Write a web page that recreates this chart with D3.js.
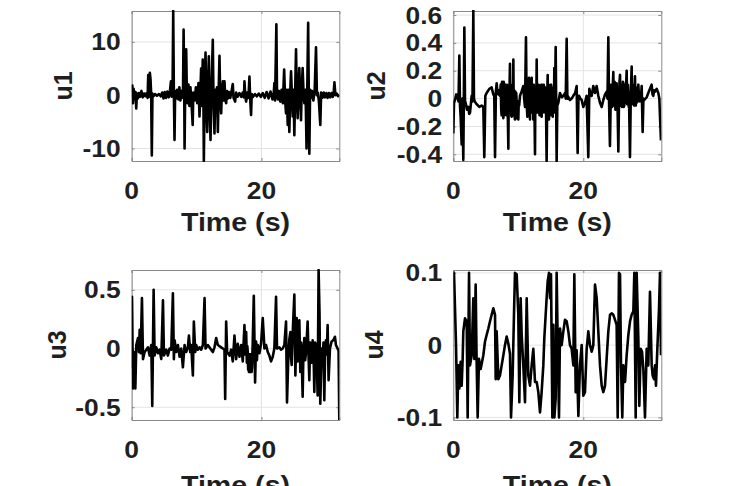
<!DOCTYPE html>
<html>
<head>
<meta charset="utf-8">
<script src="https://cdn.jsdelivr.net/npm/d3@7"></script>
<style>
  html, body { margin: 0; padding: 0; background: #fff; }
  svg { display: block; }
  text { font-family: "Liberation Sans", Arial, Helvetica, sans-serif; fill: #1f1f1f; font-weight: bold; }
</style>
</head>
<body>
<svg id="chart" width="730" height="486"></svg>
<script>
// ---------------- data (time s, value) ----------------
const u1 = [[0,0.5],[0.1,1.8],[0.2,-1.5],[0.3,1.2],[0.45,-0.8],[0.6,0.6],[0.7,-2.5],[0.8,0.3],[0.95,-0.6],[1.1,0.4],[1.3,-0.3],[1.5,0.8],[1.7,-0.4],[1.9,0.3],[2.1,-0.2],[2.3,0.4],[2.45,-0.5],[2.55,3.8],[2.65,-0.3],[2.8,4.2],[2.9,3.0],[3.0,0.2],[3.1,-11.3],[3.2,0.3],[3.35,-0.2],[3.6,0.2],[3.9,-0.1],[4.2,0.2],[4.5,-0.2],[4.7,0.5],[4.9,-0.6],[5.1,0.6],[5.3,-0.5],[5.5,0.7],[5.7,-0.4],[5.9,0.8],[6.05,2.6],[6.15,-0.3],[6.3,1.0],[6.4,15.8],[6.5,0.5],[6.6,-8.4],[6.7,0.8],[6.85,-0.6],[7.0,1.0],[7.2,-0.8],[7.35,1.5],[7.5,-1.0],[7.7,0.8],[7.9,-0.5],[8.0,12.3],[8.1,0.5],[8.15,-10],[8.25,1.2],[8.4,8.6],[8.5,0.5],[8.6,-1.5],[8.75,2],[8.9,-2],[9.05,1.5],[9.2,-1],[9.4,-5.6],[9.5,0.5],[9.7,-1.0],[9.9,1.5],[10.1,-1.5],[10.3,2.3],[10.45,-4],[10.6,1],[10.7,5],[10.8,-2],[10.95,6.7],[11.05,0],[11.12,-12.35],[11.25,1],[11.38,8],[11.5,-1],[11.64,-6.9],[11.75,1],[11.89,7.3],[12.0,-1],[12.15,-8.4],[12.3,1],[12.5,10.4],[12.6,0],[12.76,-7.2],[12.9,1],[13.02,-2],[13.15,1.5],[13.28,-6.9],[13.4,0.5],[13.53,7.4],[13.65,-1],[13.79,-3.4],[13.9,0.5],[14.05,2.6],[14.15,-1],[14.3,2.6],[14.45,-1],[14.56,-1.5],[14.7,0.8],[14.85,-0.6],[15.0,0.6],[15.2,-0.5],[15.4,0.8],[15.58,2.1],[15.7,-0.5],[15.94,-1.2],[16.1,0.5],[16.3,-0.3],[16.6,0.4],[16.9,-0.3],[17.1,0.5],[17.3,-0.4],[17.38,2.6],[17.5,0],[17.64,-1.2],[17.8,0.5],[18.0,-0.5],[18.15,3.5],[18.25,-0.3],[18.4,-3.7],[18.5,0.2],[18.7,-0.3],[19.0,0.2],[19.3,-0.2],[19.6,0.3],[19.9,-0.3],[20.2,0.4],[20.5,-0.5],[20.8,0.6],[21.1,-0.6],[21.4,0.7],[21.7,-0.8],[21.9,0.5],[22.0,2.3],[22.1,-1],[22.3,13.3],[22.4,0],[22.55,-0.8],[22.7,0.8],[22.9,-1.2],[23.1,1],[23.3,-1.5],[23.5,4.8],[23.65,-1],[23.79,-3.4],[23.9,1],[24.05,-5.6],[24.15,1],[24.3,-6.9],[24.45,1],[24.56,4.5],[24.7,0],[24.82,-4],[24.95,1],[25.07,-7.5],[25.2,1],[25.33,8.6],[25.45,0],[25.58,-4.3],[25.7,1],[25.84,5.1],[25.95,0],[26.1,-4.7],[26.2,1],[26.35,5.1],[26.5,0],[26.61,-1.5],[26.8,1],[26.95,-10],[27.05,0],[27.2,13.6],[27.3,0],[27.38,-11],[27.5,1],[27.64,-0.5],[27.8,0.8],[28.0,-1],[28.2,0.8],[28.41,9],[28.55,0],[28.67,0.5],[28.85,-1],[29.07,-5.6],[29.2,0.5],[29.4,-0.5],[29.6,0.5],[29.8,-0.4],[30.0,0.4],[30.2,-0.5],[30.4,0.4],[30.6,-0.4],[30.8,0.4],[31.0,-0.3],[31.15,0.8],[31.25,2.4],[31.4,0],[31.6,0.3],[31.8,-0.2],[32,0.1]];

const u2 = [[0,-0.25],[0.11,-0.03],[0.26,-0.01],[0.45,0.03],[0.62,0.02],[0.8,-0.02],[0.93,0.31],[1.03,-0.05],[1.13,-0.13],[1.29,-0.33],[1.4,0.0],[1.54,-0.44],[1.62,0.0],[1.70,0.51],[1.8,-0.02],[1.9,-0.03],[2.1,-0.08],[2.31,-0.06],[2.45,-0.11],[2.57,-0.1],[2.7,-0.04],[2.83,0.02],[2.95,-0.02],[3.08,0.63],[3.18,0.0],[3.3,-0.02],[3.59,-0.04],[4.0,-0.06],[4.36,-0.05],[4.62,-0.06],[4.77,-0.42],[4.93,0.02],[5.13,0.04],[5.54,0.07],[5.9,0.08],[6.05,0.05],[6.16,0.03],[6.3,0.02],[6.42,-0.42],[6.55,0.05],[6.67,0.11],[6.8,0.04],[6.93,0.03],[7.05,0.06],[7.18,0.02],[7.3,0.1],[7.37,-0.08],[7.44,-0.12],[7.5,0.12],[7.55,0.1],[7.62,-0.1],[7.7,-0.14],[7.76,0.12],[7.82,0.1],[7.88,-0.12],[7.95,-0.1],[8.0,0.1],[8.05,0.08],[8.13,-0.1],[8.21,-0.12],[8.26,0.1],[8.3,0.05],[8.38,-0.1],[8.47,-0.36],[8.53,0.05],[8.6,-0.08],[8.66,0.1],[8.72,0.25],[8.78,-0.1],[8.85,0.08],[8.92,-0.12],[8.98,-0.13],[9.04,0.1],[9.1,0.05],[9.17,-0.12],[9.24,0.28],[9.3,-0.1],[9.35,0.06],[9.42,-0.12],[9.49,-0.15],[9.55,0.05],[9.62,-0.1],[9.68,0.04],[9.75,-0.03],[9.82,-0.14],[9.88,-0.1],[9.94,-0.02],[10.0,-0.15],[10.07,-0.02],[10.13,-0.05],[10.26,0.02],[10.5,0.05],[10.77,0.09],[10.9,0.0],[11.03,-0.06],[11.18,0.44],[11.28,-0.02],[11.39,-0.13],[11.46,0.08],[11.52,0.05],[11.58,-0.1],[11.65,0.15],[11.72,-0.05],[11.8,-0.15],[11.86,0.1],[11.93,0.05],[12.0,-0.1],[12.06,0.15],[12.12,-0.1],[12.18,-0.05],[12.25,0.1],[12.31,-0.15],[12.38,0.1],[12.45,0.05],[12.57,-0.4],[12.63,0.08],[12.7,0.05],[12.76,-0.1],[12.83,0.28],[12.89,-0.1],[12.95,0.0],[13.02,0.1],[13.08,-0.1],[13.14,0.1],[13.2,0.05],[13.27,-0.12],[13.34,0.09],[13.4,-0.12],[13.47,-0.05],[13.53,0.1],[13.59,-0.13],[13.66,0.1],[13.72,0.05],[13.78,-0.1],[13.85,0.04],[13.92,0.1],[13.98,-0.05],[14.05,0.08],[14.11,-0.1],[14.18,0.08],[14.25,0.0],[14.36,-0.448],[14.45,0.0],[14.52,0.17],[14.57,-0.08],[14.62,0.0],[14.68,0.1],[14.72,-0.15],[14.79,0.08],[14.85,0.0],[14.92,-0.12],[14.98,0.09],[15.05,0.1],[15.12,-0.05],[15.2,0.08],[15.29,-0.13],[15.35,0.08],[15.42,0.05],[15.48,-0.1],[15.54,0.22],[15.6,-0.1],[15.65,0.0],[15.75,0.37],[15.82,0.0],[15.9,-0.448],[16.0,-0.05],[16.16,-0.03],[16.41,0.04],[16.7,0.01],[16.93,0.02],[17.18,0.04],[17.3,0.0],[17.44,0.43],[17.55,0.0],[17.59,0.02],[17.95,-0.01],[18.2,0.0],[18.46,0.02],[18.75,0.04],[18.98,0.09],[19.13,-0.39],[19.25,0.0],[19.34,0.02],[19.55,0.0],[19.75,-0.01],[20.0,-0.06],[20.26,-0.03],[20.51,0.02],[20.77,-0.42],[20.93,0.07],[21.1,0.03],[21.29,0.02],[21.54,0.09],[21.8,0.04],[22.05,0.09],[22.31,0.02],[22.57,-0.03],[22.83,-0.06],[23.08,-0.01],[23.35,0.03],[23.6,0.05],[23.72,0.0],[23.85,0.44],[23.95,0.0],[24.1,-0.34],[24.22,0.0],[24.29,0.1],[24.36,0.08],[24.43,-0.06],[24.5,-0.02],[24.56,0.12],[24.62,0.19],[24.68,-0.05],[24.75,-0.02],[24.82,0.12],[24.88,0.04],[24.94,-0.08],[25.0,-0.05],[25.06,0.1],[25.13,0.11],[25.19,-0.05],[25.25,0.0],[25.39,-0.38],[25.5,0.0],[25.57,0.12],[25.65,0.17],[25.72,-0.04],[25.78,-0.05],[25.84,0.1],[25.9,0.05],[25.96,-0.06],[26.03,-0.05],[26.1,0.12],[26.16,0.11],[26.23,-0.06],[26.3,-0.05],[26.35,0.08],[26.41,-0.03],[26.48,0.1],[26.55,0.05],[26.67,0.2],[26.74,-0.04],[26.8,-0.02],[26.87,0.1],[26.93,0.04],[27.0,-0.06],[27.05,-0.05],[27.18,-0.42],[27.3,0.0],[27.37,0.12],[27.44,0.23],[27.5,-0.04],[27.55,-0.02],[27.62,0.1],[27.69,0.02],[27.76,0.1],[27.82,-0.05],[27.95,0.16],[28.02,-0.02],[28.08,-0.05],[28.15,0.08],[28.21,-0.03],[28.28,0.08],[28.35,0.05],[28.47,0.1],[28.6,-0.02],[28.72,0.02],[28.85,-0.02],[28.98,0.09],[29.13,-0.24],[29.25,0.0],[29.39,-0.01],[29.75,0.01],[30.0,0.04],[30.26,0.07],[30.51,0.1],[30.65,0.03],[30.77,0.02],[30.9,0.06],[31.03,0.05],[31.28,0.07],[31.54,0.04],[31.7,0.0],[31.8,-0.13],[31.95,-0.3]];

const u3 = [[0,-0.17],[0.05,0.44],[0.2,-0.34],[0.35,-0.03],[0.56,-0.34],[0.71,0.03],[0.97,0.09],[1.12,-0.03],[1.23,0.16],[1.38,-0.04],[1.58,0.43],[1.74,-0.09],[1.99,-0.03],[2.25,-0.01],[2.51,0.01],[2.76,-0.06],[3.02,0.03],[3.17,-0.49],[3.38,0.5],[3.53,-0.06],[3.79,0.01],[4.05,-0.04],[4.3,-0.01],[4.56,-0.09],[4.82,0.41],[4.97,-0.06],[5.33,-0.01],[5.58,-0.06],[5.84,0.0],[6.1,-0.01],[6.35,0.47],[6.5,-0.09],[6.61,0.07],[6.87,-0.03],[7.12,0.03],[7.38,-0.07],[7.64,0.0],[7.89,-0.16],[8.15,0.03],[8.4,-0.03],[8.66,0.01],[8.82,0.11],[9.02,-0.03],[9.17,0.03],[9.43,-0.23],[9.58,0.23],[9.79,-0.03],[9.94,0.03],[10.2,-0.01],[10.46,0.01],[10.71,-0.01],[10.97,0.03],[11.23,0.43],[11.38,0.0],[11.74,0.03],[12.25,-0.01],[12.51,-0.03],[12.76,0.01],[13.02,0.09],[13.28,0.03],[13.79,0.01],[14.05,0.0],[14.3,-0.01],[14.41,-0.43],[14.56,0.23],[14.71,-0.03],[15.07,-0.06],[15.33,-0.01],[15.58,-0.11],[15.84,0.11],[16.1,-0.09],[16.35,0.04],[16.61,-0.07],[16.87,0.03],[17.12,-0.11],[17.38,0.2],[17.5,-0.05],[17.64,0.14],[17.75,-0.12],[17.82,0.02],[17.89,-0.03],[17.95,-0.18],[18.0,-0.05],[18.07,-0.2],[18.15,-0.05],[18.22,-0.2],[18.3,-0.05],[18.36,-0.18],[18.41,-0.07],[18.48,-0.2],[18.55,-0.15],[18.66,0.06],[18.82,0.45],[19.02,-0.29],[19.17,0.06],[19.3,-0.1],[19.43,0.03],[19.69,-0.04],[19.94,0.04],[20.2,0.26],[20.46,0.0],[20.71,0.03],[20.97,-0.03],[21.22,-0.06],[21.48,-0.11],[21.74,-0.07],[21.99,0.0],[22.25,0.44],[22.4,0.0],[22.76,0.01],[23.02,-0.01],[23.28,0.0],[23.53,0.03],[23.79,0.23],[23.94,-0.46],[24.15,-0.06],[24.3,0.08],[24.46,0.14],[24.56,-0.08],[24.66,-0.14],[24.77,0.05],[24.87,0.2],[25.07,0.46],[25.23,-0.23],[25.43,0.26],[25.58,-0.11],[25.7,0.05],[25.84,0.24],[25.99,-0.2],[26.1,0.05],[26.2,-0.06],[26.35,-0.41],[26.48,0.0],[26.61,0.09],[26.74,-0.1],[26.87,-0.03],[27.0,0.1],[27.12,0.23],[27.25,-0.05],[27.38,-0.27],[27.5,0.05],[27.64,-0.01],[27.77,-0.12],[27.89,0.07],[28.02,0.0],[28.15,-0.37],[28.28,0.05],[28.4,0.03],[28.53,-0.1],[28.66,-0.4],[28.81,0.669],[28.95,0.3],[29.07,-0.47],[29.28,0.0],[29.43,-0.14],[29.56,0.05],[29.69,-0.44],[29.82,0.0],[29.94,0.07],[30.07,-0.05],[30.2,0.2],[30.35,-0.27],[30.56,0.0],[30.81,0.06],[31.07,0.07],[31.33,0.1],[31.48,0.03],[31.74,0.0],[31.89,-0.02],[32,-0.609]];

const u4 = [[0,0.1],[0.11,0.1],[0.42,0],[0.62,-0.1],[0.77,-0.028],[0.93,-0.06],[1.13,-0.023],[1.29,-0.056],[1.44,-0.019],[1.54,0.019],[1.8,0.037],[2.06,0.033],[2.21,-0.1],[2.42,0.1],[2.57,-0.028],[2.83,-0.014],[3.08,0.065],[3.24,-0.019],[3.44,0.084],[3.59,-0.023],[3.75,-0.1],[3.95,-0.019],[4.21,-0.033],[4.62,-0.014],[4.88,0.005],[5.13,0.014],[5.39,0.023],[5.65,0.033],[5.9,0.042],[6.16,0.051],[6.42,0.042],[6.52,-0.047],[6.67,0.019],[6.93,-0.047],[7.18,-0.042],[7.44,-0.028],[7.7,-0.014],[7.95,0],[8.21,0.012],[8.47,0.002],[8.72,-0.012],[8.88,-0.1],[9.13,-0.042],[9.34,0.044],[9.49,0.1],[9.75,0.098],[10.0,0.042],[10.16,-0.079],[10.36,0.065],[10.52,0.014],[10.77,-0.028],[11.03,-0.079],[11.29,0.065],[11.54,-0.042],[11.8,-0.056],[12.06,-0.028],[12.31,-0.005],[12.57,-0.051],[12.83,-0.051],[13.08,-0.065],[13.34,-0.093],[13.59,-0.065],[13.85,-0.028],[14.0,0.009],[14.21,0.042],[14.36,0.065],[14.52,0.088],[14.72,0.1],[14.88,0.065],[15.03,0.098],[15.24,-0.1],[15.39,0.028],[15.55,-0.1],[15.75,-0.074],[15.9,0.1],[16.06,0.005],[16.26,-0.1],[16.42,0.023],[16.67,0],[16.93,0.019],[17.18,0.035],[17.44,0.033],[17.7,0.019],[17.95,0],[18.21,-0.005],[18.47,-0.028],[18.62,0.098],[18.83,-0.065],[18.98,-0.007],[19.24,-0.098],[19.49,-0.028],[19.75,0],[20.0,-0.07],[20.26,-0.065],[20.52,-0.005],[20.77,0.019],[21.03,0],[21.29,-0.009],[21.54,0],[21.8,0.084],[22.06,0.065],[22.31,0.019],[22.57,-0.028],[22.83,-0.056],[23.08,-0.065],[23.34,-0.056],[23.59,-0.019],[23.85,0.019],[24.11,0.042],[24.36,0.044],[24.62,0.042],[24.88,0.035],[25.13,0.028],[25.29,-0.1],[25.49,0.1],[25.65,0.098],[25.8,-0.028],[26.0,-0.1],[26.16,-0.028],[26.42,-0.051],[26.67,-0.014],[26.93,0.014],[27.19,0.033],[27.44,0.042],[27.7,0.047],[27.85,0.1],[28.06,-0.1],[28.21,0.1],[28.47,0.009],[28.62,-0.084],[28.83,-0.005],[29.03,-0.009],[29.24,-0.033],[29.49,-0.1],[29.75,-0.005],[30.0,-0.028],[30.26,0.074],[30.52,-0.028],[30.67,-0.042],[30.88,-0.047],[31.03,-0.028],[31.18,-0.056],[31.39,-0.005],[31.65,0.051],[31.8,0.1],[31.95,-0.014]];

// axis limits and tick labels
const timeLimits = [0, 32];
const timeTicks = [0, 20];
const u1Limits = [-12.35, 15.8];
const u2Limits = [-0.448, 0.629];
const u3Limits = [-0.609, 0.669];
const u4Limits = [-0.1036, 0.104];
const u1Ticks = [-10, 0, 10];
const u2Ticks = [-0.4, -0.2, 0, 0.2, 0.4, 0.6];
const u3Ticks = [-0.5, 0, 0.5];
const u4Ticks = [-0.1, 0, 0.1];
const seriesNames = ["u1", "u2", "u3", "u4"];
const xLabel = "Time (s)";

// ---------------- layout ----------------
const panels = [
  { name: seriesNames[0], data: u1, lim: u1Limits, ticks: u1Ticks, x0: 131.7, x1: 339.3, y0: 11, y1: 161, labX: 63, labOff: 70 },
  { name: seriesNames[1], data: u2, lim: u2Limits, ticks: u2Ticks, x0: 453.3, x1: 661.3, y0: 11, y1: 161, labX: 376, labOff: 70 },
  { name: seriesNames[2], data: u3, lim: u3Limits, ticks: u3Ticks, x0: 131.7, x1: 339.3, y0: 270, y1: 420, labX: 57, labOff: 74 },
  { name: seriesNames[3], data: u4, lim: u4Limits, ticks: u4Ticks, x0: 453.3, x1: 661.3, y0: 270, y1: 420, labX: 374, labOff: 74 }
];

const svg = d3.select("#chart");
const fmt = v => String(v);
const TICK_FS = 24, LABEL_FS = 26, YLAB_FS = 25, SX = 1.1, GAP = 11;

panels.forEach((p, i) => {
  const x = d3.scaleLinear().domain(timeLimits).range([p.x0, p.x1]);
  const y = d3.scaleLinear().domain(p.lim).range([p.y1, p.y0]);
  const g = svg.append("g");

  const clipId = "clip" + i;
  svg.append("clipPath").attr("id", clipId).append("rect")
    .attr("x", p.x0).attr("y", p.y0 - 1).attr("width", p.x1 - p.x0).attr("height", p.y1 - p.y0 + 2);

  // grid
  g.append("g").selectAll("line").data(p.ticks).join("line")
    .attr("x1", p.x0).attr("x2", p.x1).attr("y1", d => y(d)).attr("y2", d => y(d))
    .attr("stroke", "#e3e3e3").attr("stroke-width", 1);
  g.append("g").selectAll("line").data(timeTicks).join("line")
    .attr("x1", d => x(d)).attr("x2", d => x(d)).attr("y1", p.y0).attr("y2", p.y1)
    .attr("stroke", "#e3e3e3").attr("stroke-width", 1);

  // axes via d3 (inward ticks); labels styled separately
  const yAxis = d3.axisLeft(y).tickValues(p.ticks).tickSize(-3).tickFormat("");
  const yAxisR = d3.axisRight(y).tickValues(p.ticks).tickSize(-3).tickFormat("");
  const xAxis = d3.axisBottom(x).tickValues(timeTicks).tickSize(-3).tickFormat("");
  const xAxisT = d3.axisTop(x).tickValues(timeTicks).tickSize(-3).tickFormat("");
  [[yAxis, `translate(${p.x0},0)`], [yAxisR, `translate(${p.x1},0)`],
   [xAxis, `translate(0,${p.y1})`], [xAxisT, `translate(0,${p.y0})`]].forEach(([ax, tr]) => {
    const a = g.append("g").attr("transform", tr).call(ax);
    a.select(".domain").attr("stroke", "#8a8a8a");
    a.selectAll(".tick line").attr("stroke", "#8a8a8a");
  });

  // signal
  const line = d3.line().x(d => x(d[0])).y(d => y(d[1]));
  g.append("path").datum(p.data)
    .attr("clip-path", `url(#${clipId})`)
    .attr("d", line).attr("fill", "none").attr("stroke", "#000")
    .attr("stroke-width", 2.6).attr("stroke-linejoin", "round");

  // y tick labels
  g.append("g").selectAll("text").data(p.ticks).join("text")
    .attr("transform", d => `translate(${p.x0 - GAP},${y(d)}) scale(${SX},1)`)
    .attr("text-anchor", "end").attr("dominant-baseline", "central")
    .attr("font-size", TICK_FS).text(fmt);

  // x tick labels
  g.append("g").selectAll("text").data(timeTicks).join("text")
    .attr("transform", d => `translate(${x(d)},${p.y1 + 29}) scale(${SX},1)`)
    .attr("text-anchor", "middle").attr("dominant-baseline", "central")
    .attr("font-size", TICK_FS).text(d => d);

  // x label
  g.append("text")
    .attr("transform", `translate(${(p.x0 + p.x1) / 2},${p.y1 + p.labOff}) scale(${SX},1)`)
    .attr("text-anchor", "middle")
    .attr("font-size", LABEL_FS).text(xLabel);

  // y label
  g.append("text")
    .attr("transform", `translate(${p.labX},${(p.y0 + p.y1) / 2}) rotate(-90)`)
    .attr("text-anchor", "middle").attr("dominant-baseline", "central")
    .attr("font-size", YLAB_FS).text(p.name);
});
</script>
</body>
</html>
